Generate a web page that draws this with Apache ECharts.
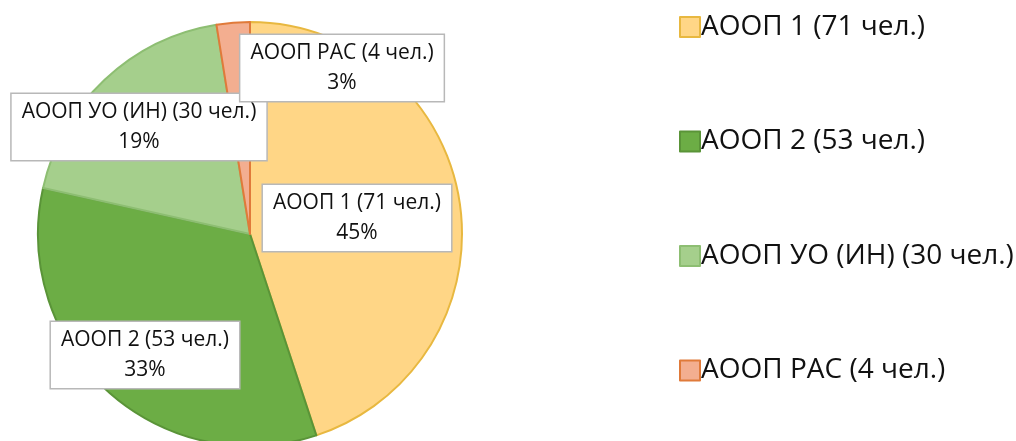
<!DOCTYPE html>
<html>
<head>
<meta charset="utf-8">
<script src="https://cdn.jsdelivr.net/npm/echarts@6/dist/echarts.min.js"></script>
<style>
  html, body { margin: 0; padding: 0; background: #fff; }
  #charts { width: 1016px; height: 441px; }
</style>
</head>
<body>
<div id="charts"></div>
<script>
// categories, counts (persons) and the percentages printed on the chart
var categories = ['АООП 1 (71 чел.)', 'АООП 2 (53 чел.)', 'АООП УО (ИН) (30 чел.)', 'АООП РАС (4 чел.)'];
var counts = [71, 53, 30, 4];
var percents = [45, 33, 19, 3];
var fills = ['#FFD686', '#6CAD45', '#A5CF8C', '#F3AE90'];
var borders = ['#E8B840', '#5A9438', '#8DBE72', '#E07A3A'];

// where each callout box sits (label centre)
var labelPos = [[357, 218], [145, 355], [139, 127], [342, 68]];

var pieData = categories.map(function (name, i) {
  return {
    name: name,
    value: counts[i],
    itemStyle: { color: fills[i], borderColor: borders[i], borderWidth: 2 }
  };
});

var echart = echarts.init(document.getElementById('charts'));
var options = {
  animation: false,
  legend: {
    orient: 'vertical',
    left: 674,
    top: 8,
    itemWidth: 20,
    itemHeight: 20,
    itemGap: 86.5,
    icon: 'rect',
    textStyle: { fontFamily: 'Open Sans', fontSize: 28, color: '#111', padding: [0, 0, 0, -4] },
    data: categories
  },
  series: [
    {
      type: 'pie',
      center: [250, 234],
      radius: 212,
      startAngle: 90,
      clockwise: true,
      data: pieData,
      label: {
        show: true,
        position: 'inside',
        formatter: function (p) {
          return p.name + '\n' + percents[p.dataIndex] + '%';
        },
        fontFamily: 'Open Sans',
        fontSize: 21,
        lineHeight: 30,
        color: '#111',
        align: 'center',
        backgroundColor: '#fff',
        borderColor: '#b8b8b8',
        borderWidth: 1.5,
        padding: [3, 10, 3, 10]
      },
      labelLine: { show: false },
      labelLayout: function (p) {
        var xy = labelPos[p.dataIndex];
        return { x: xy[0], y: xy[1], align: 'center', verticalAlign: 'middle' };
      },
      emphasis: { disabled: true }
    }
  ]
};
echart.setOption(options);
</script>
</body>
</html>
